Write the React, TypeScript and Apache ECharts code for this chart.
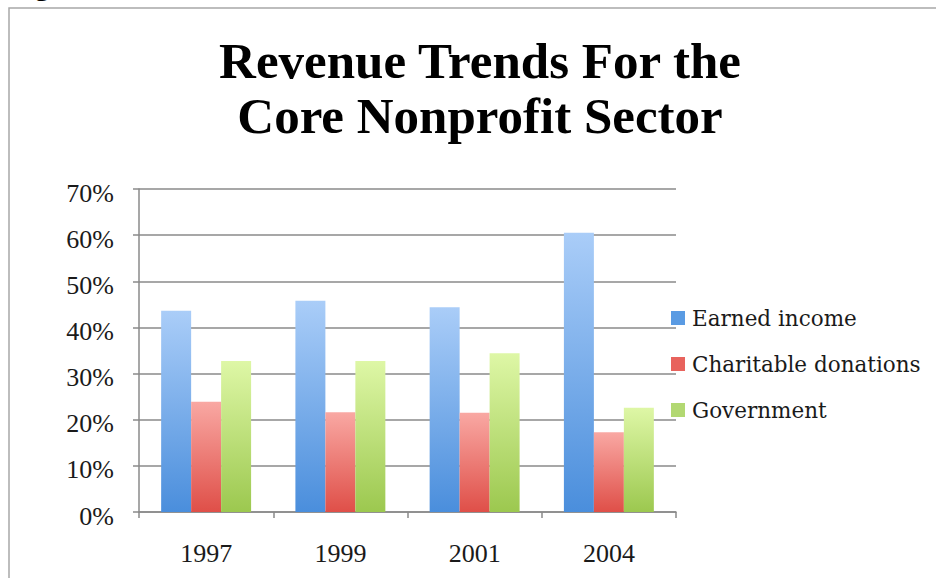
import React, { useEffect, useRef } from "react";
import * as echarts from "echarts";

const categories = ["1997", "1999", "2001", "2004"];
const earnedIncome = [43.6, 45.8, 44.4, 60.5];
const charitableDonations = [23.9, 21.6, 21.5, 17.3];
const government = [32.7, 32.7, 34.4, 22.6];
const seriesNames = ["Earned income", "Charitable donations", "Government"];

const FONT = "'Liberation Serif', 'DejaVu Serif', serif";
const LEGEND_FONT = "'DejaVu Serif', 'Liberation Serif', serif";

function grad(top: string, bottom: string) {
  return new echarts.graphic.LinearGradient(0, 0, 0, 1, [
    { offset: 0, color: top },
    { offset: 1, color: bottom },
  ]);
}

export default function App() {
  const ref = useRef<HTMLDivElement>(null);
  useEffect(() => {
    if (!ref.current) return;
    const chart = echarts.init(ref.current, null, { renderer: "svg" });
    const colors = [
      grad("#aacdf8", "#4a8edc"),
      grad("#f9a8a3", "#df4f48"),
      grad("#def7a6", "#9cc84f"),
    ];
    const legendColors = ["#5a9be3", "#e8635d", "#b2d872"];
    const data = [earnedIncome, charitableDonations, government];
    chart.setOption({
      animation: false,
      backgroundColor: "#ffffff",
      title: {
        text: "Revenue Trends For the\nCore Nonprofit Sector",
        left: 480,
        top: 33,
        padding: 0,
        textAlign: "center",
        textStyle: {
          fontFamily: FONT,
          fontWeight: "bold",
          fontSize: 51,
          lineHeight: 55,
          color: "#000000",
        },
      },
      legend: {
        orient: "vertical",
        left: 671,
        top: 307,
        padding: 0,
        itemWidth: 14,
        itemHeight: 14,
        itemGap: 24,
        icon: "rect",
        textStyle: {
          fontFamily: LEGEND_FONT,
          fontSize: 21.5,
          lineHeight: 22,
          color: "#1a1a1a",
          padding: [0, 0, 0, 2],
        },
        data: seriesNames.map((n, i) => ({
          name: n,
          itemStyle: { color: legendColors[i] },
        })),
      },
      grid: { left: 139, right: 260, top: 189, bottom: 66, containLabel: false },
      xAxis: {
        type: "category",
        data: categories,
        axisLine: { lineStyle: { color: "#8a8a8a", width: 1.5 } },
        axisTick: { show: true, length: 6, lineStyle: { color: "#8a8a8a", width: 1.5 } },
        axisLabel: {
          fontFamily: FONT,
          fontSize: 26,
          color: "#1a1a1a",
          margin: 28,
        },
      },
      yAxis: {
        type: "value",
        min: 0,
        max: 70,
        interval: 10,
        axisLine: { show: true, lineStyle: { color: "#8a8a8a", width: 1.5 } },
        axisTick: { show: true, length: 6, lineStyle: { color: "#8a8a8a", width: 1.5 } },
        splitLine: { lineStyle: { color: "#8a8a8a", width: 1.5 } },
        axisLabel: {
          fontFamily: FONT,
          fontSize: 26,
          color: "#1a1a1a",
          margin: 25,
          verticalAlign: "top",
          lineHeight: 8,
          formatter: "{value}%",
        },
      },
      series: seriesNames.map((n, i) => ({
        name: n,
        type: "bar",
        data: data[i],
        barGap: "0%",
        barCategoryGap: "33%",
        itemStyle: { color: colors[i] },
      })),
      graphic: [
        {
          type: "rect",
          shape: { x: 9, y: 8, width: 1200, height: 1200 },
          style: { fill: "none", stroke: "#a8a8a8", lineWidth: 1.5 },
          silent: true,
        },
        {
          type: "text",
          x: 8,
          y: -1,
          style: {
            text: "Figure",
            fontFamily: FONT,
            fontWeight: "bold",
            fontSize: 30,
            fill: "#000",
            verticalAlign: "bottom",
          },
          silent: true,
        },
      ],
    });
    return () => chart.dispose();
  }, []);
  return (
    <div
      ref={ref}
      style={{ position: "fixed", left: 0, top: 0, width: 936, height: 578 }}
    />
  );
}
